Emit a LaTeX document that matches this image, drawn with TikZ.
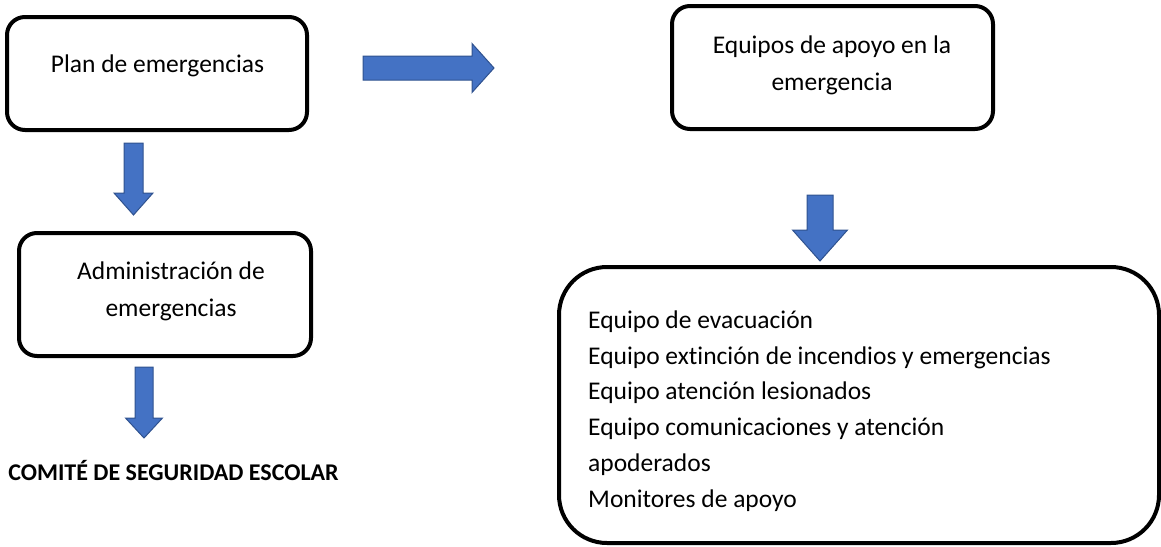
\documentclass[tikz,border=0pt]{standalone}
\usepackage{fontspec}
\setmainfont{Carlito}[Ligatures=NoCommon]
\definecolor{arrowfill}{HTML}{4472C4}
\definecolor{arrowline}{HTML}{2F528F}
\begin{document}
\begin{tikzpicture}[x=1pt,y=-1pt,
  box/.style={draw=black,line width=4pt,rounded corners=18pt,inner sep=0pt},
  txt/.style={font=\fontsize{25.5}{37.5}\selectfont,inner sep=0pt,align=center},
  blockarrow/.style={fill=arrowfill,draw=arrowline,line width=1pt,line join=miter}]
\useasboundingbox (0,0) rectangle (1161,546);
% boxes
\node[box,minimum width=300pt,minimum height=113pt] (plan) at (157,73.5) {};
\node[txt,anchor=base] (plantxt) at (157.5,72) {Plan de emergencias};
\node[box,minimum width=292pt,minimum height=123pt] (admin) at (165,294.5) {};
\node[txt] (admintxt) at (171,291.5) {Administración de\\emergencias};
\node[box,minimum width=321pt,minimum height=123pt] (equipos) at (832.5,67.5) {};
\node[txt] (equipostxt) at (832,65.5) {Equipos de apoyo en la\\emergencia};
\node[box,rounded corners=48pt,minimum width=600pt,minimum height=276pt] (lista) at (859,405) {};
\node[font=\fontsize{25.5}{35.8}\selectfont,inner sep=0pt,align=left,anchor=west] (listatxt) at (588,411)
  {Equipo de evacuación\\Equipo extinción de incendios y emergencias\\Equipo atención lesionados\\Equipo comunicaciones y atención\\apoderados\\Monitores de apoyo};
\node[font=\fontsize{24}{28}\selectfont\bfseries,inner sep=0pt,anchor=base] (comite) at (173.5,480) {COMITÉ DE SEGURIDAD ESCOLAR};
% block arrows
\draw[blockarrow] (124,143) -- (143,143) -- (143,193) -- (153,193) -- (133.5,215) -- (114,193) -- (124,193) -- cycle;
\draw[blockarrow] (135,367) -- (153,367) -- (153,418) -- (162.5,418) -- (144,438) -- (125.5,418) -- (135,418) -- cycle;
\draw[blockarrow] (363,56) -- (472,56) -- (472,43.5) -- (494,68) -- (472,92.5) -- (472,80) -- (363,80) -- cycle;
\draw[blockarrow] (807,195) -- (833,195) -- (833,230) -- (847.5,230) -- (820,261) -- (792.5,230) -- (807,230) -- cycle;
\end{tikzpicture}
\end{document}
